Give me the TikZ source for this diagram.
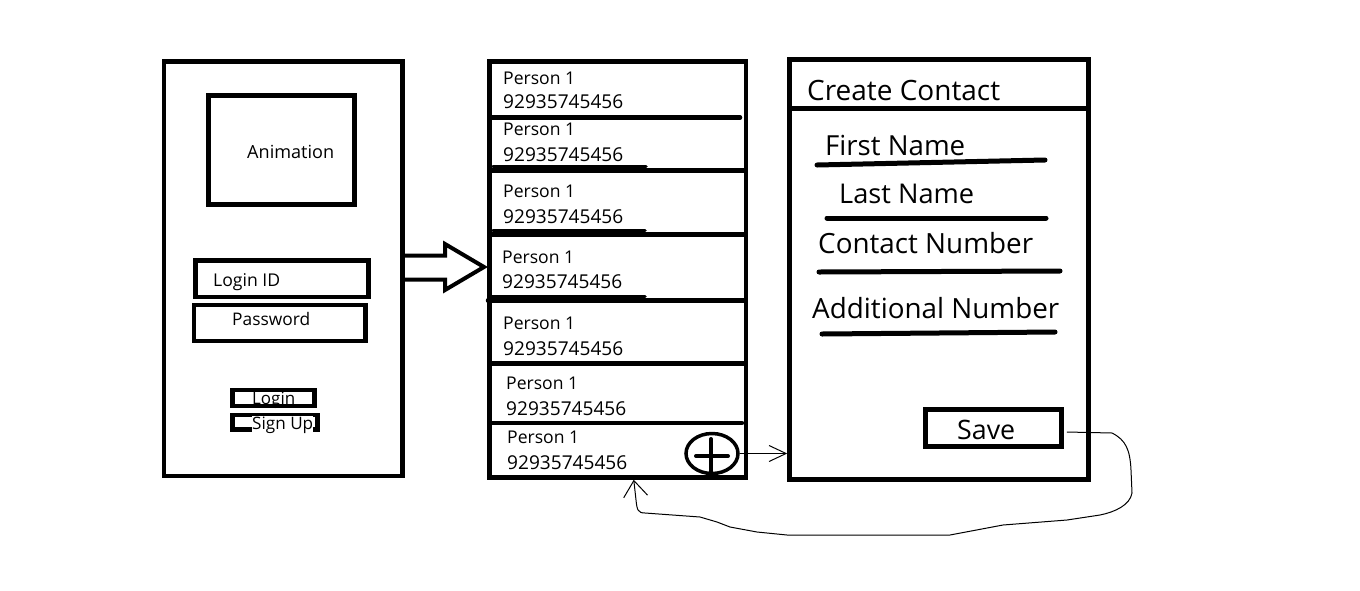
\documentclass[tikz,border=0pt]{standalone}
\usepackage{fontspec}
\setmainfont{Open Sans}
\usepackage{graphicx}
\usetikzlibrary{arrows.meta,calc,shapes.geometric}
\newcommand\tw[2]{\resizebox{#1pt}{!}{#2}}
\tikzset{
  box/.style={draw=black, line width=4.5pt, rectangle, inner sep=0pt, fill=none},
  bar/.style={line width=4.5pt, line cap=round},
  uline/.style={line width=5pt, line cap=round},
  txt/.style={anchor=base west, inner sep=0pt, text=black},
  fine/.style={line width=1pt},
}
\begin{document}
\begin{tikzpicture}[x=1pt,y=-1pt]
\useasboundingbox[fill=white] (0,0) rectangle (1360,590);

% ---------- Login screen ----------
\node[box, minimum width=238.5pt, minimum height=414.5pt] (login) at (283.25,268.75) {};
\node[box, minimum width=146pt, minimum height=109pt] (anim) at (281.5,150) {};
\node[txt] (animT) at (247,158) {\tw{87}{Animation}};
\node[box, minimum width=173pt, minimum height=36.5pt] (lid) at (282,278.75) {};
\node[txt] (lidT) at (213,286) {\tw{67}{Login ID}};
\node[box, minimum width=171.5pt, minimum height=36pt] (pwd) at (279.75,323) {};
\node[txt] (pwdT) at (232,325) {\tw{78}{Password}};
\node[box, line width=4.5pt, minimum width=82pt, minimum height=16pt] (lbtn) at (273.5,398) {};
\node[txt] (lbtnT) at (252,404) {\tw{43}{Login}};
\node[box, line width=4.5pt, minimum width=85pt, minimum height=14.5pt] (sbtn) at (275,422.25) {};
\begin{scope}
  \clip (240,410) rectangle (330,433);
  \node[txt, fill=white] (sbtnT) at (252,429) {\tw{61}{Sign Up}};
\end{scope}

% ---------- Contact list ----------
\node[box, minimum width=256.5pt, minimum height=416pt] (mid) at (617.75,269.5) {};
\draw[bar] (491,117.5) -- (740,117.5);
\draw[bar, line width=3.5pt] (493,166.5) -- (646,166.5);
\draw[bar] (491,170.5) -- (745,170.5);
\draw[bar, line width=3.5pt] (493,230.5) -- (645,230.5);
\draw[bar] (491,234.5) -- (745,234.5);
\draw[bar, line width=3.5pt] (491,296.5) -- (645,296.5);
\draw[bar] (488,300.5) -- (745,300.5);
\draw[bar] (491,363.5) -- (745,363.5);
\draw[bar] (491,423) -- (742,423);

\node[txt] (p1) at (503,84) {\tw{72}{Person 1}};
\node[txt] (n1) at (503,108) {\tw{120}{92935745456}};
\node[txt] (p2) at (503,135) {\tw{72}{Person 1}};
\node[txt] (n2) at (503,161) {\tw{120}{92935745456}};
\node[txt] (p3) at (503,197) {\tw{72}{Person 1}};
\node[txt] (n3) at (503,223) {\tw{120}{92935745456}};
\node[txt] (p4) at (502,263) {\tw{72}{Person 1}};
\node[txt] (n4) at (502,288) {\tw{120}{92935745456}};
\node[txt] (p5) at (503,329) {\tw{72}{Person 1}};
\node[txt] (n5) at (503,355) {\tw{120}{92935745456}};
\node[txt] (p6) at (506,389) {\tw{72}{Person 1}};
\node[txt] (n6) at (506,415) {\tw{120}{92935745456}};
\node[txt] (p7) at (507,443) {\tw{72}{Person 1}};
\node[txt] (n7) at (507,469) {\tw{120}{92935745456}};

\node[draw, ellipse, line width=3.5pt, minimum width=52pt, minimum height=40pt, inner sep=0pt] (plus) at (712,453.5) {};
\draw[line width=4pt, line cap=round] (696,456) -- (728,456);
\draw[line width=4pt, line cap=round] (711,439) -- (711,472);

% ---------- Create contact ----------
\node[box, minimum width=299pt, minimum height=420pt] (new) at (939,269.5) {};
\draw[line width=4.5pt] (789.5,108.5) -- (1088.5,108.5);
\node[txt] (title) at (807,100) {\tw{193}{Create Contact}};
\node[txt] (fn) at (825,155) {\tw{140}{First Name}};
\draw[uline] (817,165) -- (1045,160);
\node[txt] (ln) at (839,203) {\tw{135}{Last Name}};
\draw[uline] (827,218) -- (1046,218);
\node[txt] (cn) at (818,253) {\tw{215}{Contact Number}};
\draw[uline] (819,272) -- (1060,271);
\node[txt] (an) at (812,318) {\tw{247}{Additional Number}};
\draw[uline] (822,334) -- (1055,332);
\node[box, minimum width=136pt, minimum height=37pt] (save) at (993.5,428) {};
\node[txt] (saveT) at (957,439) {\tw{58}{Save}};

% ---------- Connectors ----------
% hollow block arrow login -> list
\draw[line width=4pt, line join=miter]
  ($(login.east |- 0,255.5)+(-2,0)$) -- (445,255.5) -- (445,244) -- (484,267)
  -- (445,290) -- (445,279.5) -- ($(login.east |- 0,279.5)+(-2,0)$);

% plus -> create contact
\draw[fine, -{Straight Barb[length=17pt,width=16pt]}] (plus.east) -- (plus.east -| new.west);

% save -> back to list
\coordinate (back) at ($(mid.south)+(16,0)$);
\draw[fine, -{Straight Barb[length=16pt,width=24pt]}]
  ($(save.east)+(3,4)$) -- (1112,433)
  .. controls (1126,440) and (1130,450) .. (1131,470) -- (1132,493)
  .. controls (1130,505) and (1115,512) .. (1100,515)
  -- (1067,520) -- (1003,525) -- (950,535) -- (787,535) -- (757,532)
  -- (730,527) -- (717,522) -- (700,517) -- (645,513)
  .. controls (638,513) and (637,510) .. (636,500) -- (back);
\end{tikzpicture}
\end{document}
